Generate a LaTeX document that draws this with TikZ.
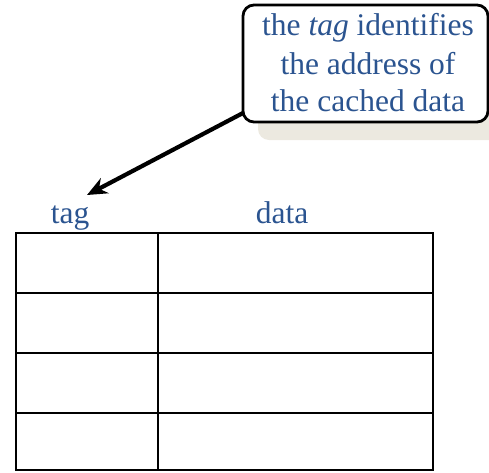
\documentclass[tikz,border=0pt]{standalone}
\usepackage{fontspec}
\setmainfont{Liberation Serif}
\usetikzlibrary{arrows.meta}
\definecolor{txtblue}{RGB}{43,84,144}
\definecolor{shadowbeige}{RGB}{236,233,224}
\begin{document}
\begin{tikzpicture}[x=1pt,y=-1pt,
  lbl/.style={font=\fontsize{31.5}{38}\selectfont, text=txtblue, inner sep=0pt, anchor=base},
  grid/.style={line width=2.6pt, black},
  callout/.style={draw=black, line width=2.8pt, rounded corners=11pt, fill=white,
    minimum width=245pt, minimum height=117pt, inner sep=0pt, align=center,
    font=\fontsize{31}{38}\selectfont, text=txtblue}]
\useasboundingbox (0,0) rectangle (489,472);
% shadow
\fill[shadowbeige, rounded corners=11pt] (258,22) rectangle (500,140);
% callout
\node[callout] (note) at (365.5,63.5) {};
\node[lbl] (l1) at (368,35.5) {the \textit{tag} identifies};
\node[lbl] (l2) at (368,74) {the address of};
\node[lbl] (l3) at (368,111.5) {the cached data};
% labels
\node[lbl] (tag) at (70,223) {tag};
\node[lbl] (data) at (282,223) {data};
% arrow
\coordinate (tail) at (243,113);
\coordinate (tip) at (87,195);
\draw[line width=4.2pt, -{Stealth[length=20pt,width=17pt]}] (tail) -- (tip);
% table
\draw[grid] (16,233) rectangle (433,470);
\foreach \y in {293,353,413} \draw[grid] (16,\y) -- (433,\y);
\draw[grid] (158,233) -- (158,470);
\end{tikzpicture}
\end{document}
